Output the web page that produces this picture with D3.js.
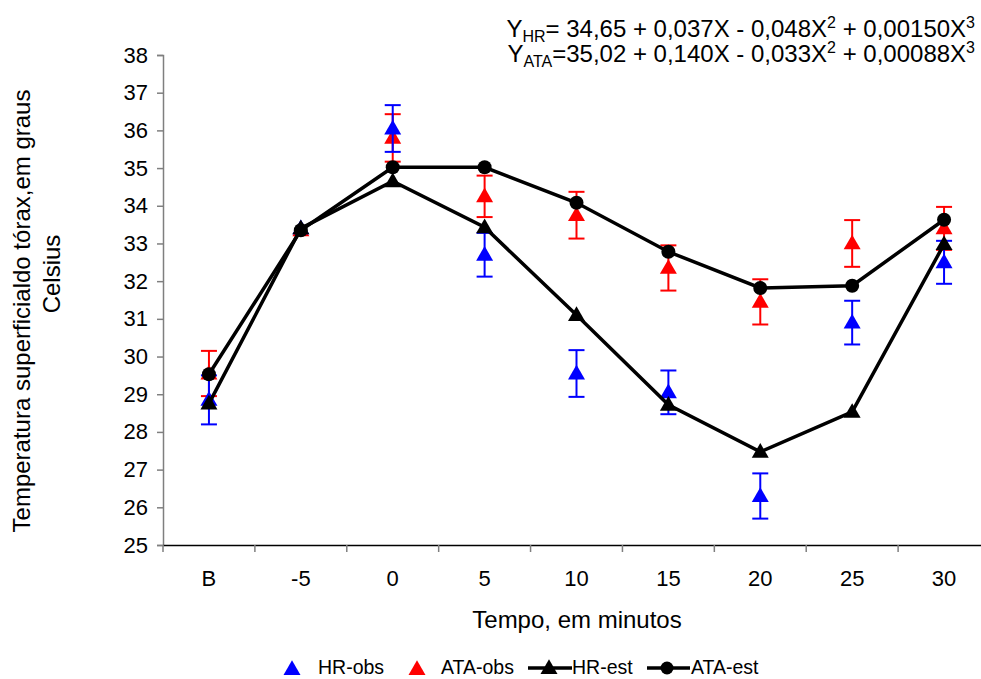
<!DOCTYPE html>
<html>
<head>
<meta charset="utf-8">
<script src="https://cdn.jsdelivr.net/npm/d3@7"></script>
<style>
  body { margin: 0; background: #fff; }
  text { font-family: "Liberation Sans", Arial, sans-serif; fill: #000; }
</style>
</head>
<body>
<svg id="chart" width="981" height="679"></svg>
<script>
// Categories and values
const categories = ["B", "-5", "0", "5", "10", "15", "20", "25", "30"];
const yTicks = d3.range(25, 39, 1);

const hrObs   = [28.85, 33.4, 36.05, 32.7, 29.55, 29.05, 26.3, 30.9, 32.5];
const hrErr   = [0.65, 0, 0.62, 0.58, 0.62, 0.58, 0.6, 0.58, 0.57];
const ataObs  = [29.55, 33.35, 35.8, 34.25, 33.75, 32.35, 31.45, 33.0, 33.4];
const ataErr  = [0.6, 0, 0.63, 0.55, 0.62, 0.6, 0.6, 0.62, 0.57];
const hrEst   = [28.75, 33.4, 34.65, 33.43, 31.1, 28.72, 27.47, 28.53, 32.98];
const ataEst  = [29.53, 33.35, 35.02, 35.02, 34.08, 32.78, 31.82, 31.88, 33.63];

const svg = d3.select("#chart");

// Scales
const x = d3.scaleBand()
    .domain(categories)
    .range([163, 990])
    .paddingInner(0)
    .paddingOuter(0);

const y = d3.scaleLinear()
    .domain([25, 38])
    .range([545, 55]);

const cx = d => x(d) + x.bandwidth() / 2;

// Y axis
const yAxis = svg.append("g")
    .attr("transform", "translate(163,0)")
    .call(d3.axisLeft(y).tickValues(yTicks).tickSize(6).tickPadding(9).tickFormat(d3.format("d")));
yAxis.select(".domain").attr("stroke", "#7f7f7f").attr("stroke-width", 1.5);
yAxis.selectAll(".tick line").attr("stroke", "#7f7f7f").attr("stroke-width", 1.5);
yAxis.selectAll(".tick text").attr("font-size", 22).attr("font-family", "Liberation Sans, Arial, sans-serif").attr("fill", "#000");

// X axis: labels centred in bands, ticks at band boundaries
const xAxis = svg.append("g")
    .attr("transform", "translate(0,545)")
    .call(d3.axisBottom(x).tickSize(0).tickPadding(25));
xAxis.select(".domain").attr("stroke", "#000").attr("stroke-width", 1.5);
xAxis.selectAll(".tick text").attr("font-size", 22).attr("font-family", "Liberation Sans, Arial, sans-serif").attr("fill", "#000");

svg.append("g")
    .selectAll("line")
    .data(categories)
    .enter().append("line")
    .attr("x1", d => x(d))
    .attr("x2", d => x(d))
    .attr("y1", 545)
    .attr("y2", 552)
    .attr("stroke", "#7f7f7f")
    .attr("stroke-width", 1.5);

// Axis titles
svg.append("text")
    .attr("x", 577)
    .attr("y", 628)
    .attr("text-anchor", "middle")
    .attr("font-size", 24)
    .text("Tempo, em minutos");

const yTitle = svg.append("text")
    .attr("transform", "rotate(-90)")
    .attr("text-anchor", "middle")
    .attr("font-size", 24);
yTitle.append("tspan")
    .attr("x", -311)
    .attr("y", 30)
    .text("Temperatura superficialdo tórax,em graus");
yTitle.append("tspan")
    .attr("x", -274)
    .attr("y", 60)
    .text("Celsius");

// Equations
const eq = [
    { sub: "HR", body: ["= 34,65 + 0,037X - 0,048X", "2", " + 0,00150X", "3"], y: 37 },
    { sub: "ATA", body: ["=35,02 + 0,140X - 0,033X", "2", " + 0,00088X", "3"], y: 62 }
];
eq.forEach(e => {
    const t = svg.append("text")
        .attr("x", 975)
        .attr("y", e.y)
        .attr("text-anchor", "end")
        .attr("font-size", 24);
    t.append("tspan").text("Y");
    t.append("tspan").attr("font-size", 16).attr("dy", 5).text(e.sub);
    t.append("tspan").attr("dy", -5).text(e.body[0]);
    t.append("tspan").attr("font-size", 16).attr("dy", -9).text(e.body[1]);
    t.append("tspan").attr("dy", 9).text(e.body[2]);
    t.append("tspan").attr("font-size", 16).attr("dy", -9).text(e.body[3]);
});

const triangle = d3.symbol().type(d3.symbolTriangle).size(125);

// Observed series with error bars
function drawObs(values, errs, color) {
    const g = svg.append("g");
    const data = categories.map((c, i) => ({ c: c, v: values[i], e: errs[i] }));
    const withErr = data.filter(d => d.e > 0);
    g.selectAll(".err")
        .data(withErr)
        .enter().append("line")
        .attr("x1", d => cx(d.c))
        .attr("x2", d => cx(d.c))
        .attr("y1", d => y(d.v - d.e))
        .attr("y2", d => y(d.v + d.e))
        .attr("stroke", color)
        .attr("stroke-width", 2);
    [1, -1].forEach(s => {
        g.selectAll(".cap" + s)
            .data(withErr)
            .enter().append("line")
            .attr("x1", d => cx(d.c) - 8)
            .attr("x2", d => cx(d.c) + 8)
            .attr("y1", d => y(d.v + s * d.e))
            .attr("y2", d => y(d.v + s * d.e))
            .attr("stroke", color)
            .attr("stroke-width", 2);
    });
    g.selectAll(".pt")
        .data(data)
        .enter().append("path")
        .attr("d", triangle)
        .attr("transform", d => `translate(${cx(d.c)},${y(d.v) + 1})`)
        .attr("fill", color);
}
drawObs(ataObs, ataErr, "#ff0000");
drawObs(hrObs, hrErr, "#0000ff");

// Estimated series
const line = d3.line()
    .x((d, i) => cx(categories[i]))
    .y(d => y(d));

svg.append("path")
    .datum(hrEst)
    .attr("d", line)
    .attr("fill", "none")
    .attr("stroke", "#000")
    .attr("stroke-width", 3.5);

svg.append("path")
    .datum(ataEst)
    .attr("d", line)
    .attr("fill", "none")
    .attr("stroke", "#000")
    .attr("stroke-width", 3.5);

svg.selectAll(".hr-est")
    .data(hrEst)
    .enter().append("path")
    .attr("class", "hr-est")
    .attr("d", triangle)
    .attr("transform", (d, i) => `translate(${cx(categories[i])},${y(d) + 1})`)
    .attr("fill", "#000");

svg.selectAll(".ata-est")
    .data(ataEst)
    .enter().append("circle")
    .attr("class", "ata-est")
    .attr("cx", (d, i) => cx(categories[i]))
    .attr("cy", d => y(d))
    .attr("r", 7)
    .attr("fill", "#000");

// Legend
const legend = svg.append("g");
legend.append("path").attr("d", triangle).attr("transform", "translate(292,670)").attr("fill", "#0000ff");
legend.append("text").attr("x", 318).attr("y", 674).attr("font-size", 19.5).text("HR-obs");
legend.append("path").attr("d", triangle).attr("transform", "translate(417,670)").attr("fill", "#ff0000");
legend.append("text").attr("x", 441).attr("y", 674).attr("font-size", 19.5).text("ATA-obs");
legend.append("line").attr("x1", 528).attr("x2", 572).attr("y1", 668).attr("y2", 668).attr("stroke", "#000").attr("stroke-width", 3.5);
legend.append("path").attr("d", triangle).attr("transform", "translate(549,669)").attr("fill", "#000");
legend.append("text").attr("x", 572).attr("y", 674).attr("font-size", 19.5).text("HR-est");
legend.append("line").attr("x1", 647).attr("x2", 690).attr("y1", 668).attr("y2", 668).attr("stroke", "#000").attr("stroke-width", 3.5);
legend.append("circle").attr("cx", 667).attr("cy", 668).attr("r", 6.5).attr("fill", "#000");
legend.append("text").attr("x", 691).attr("y", 674).attr("font-size", 19.5).text("ATA-est");
</script>
</body>
</html>
